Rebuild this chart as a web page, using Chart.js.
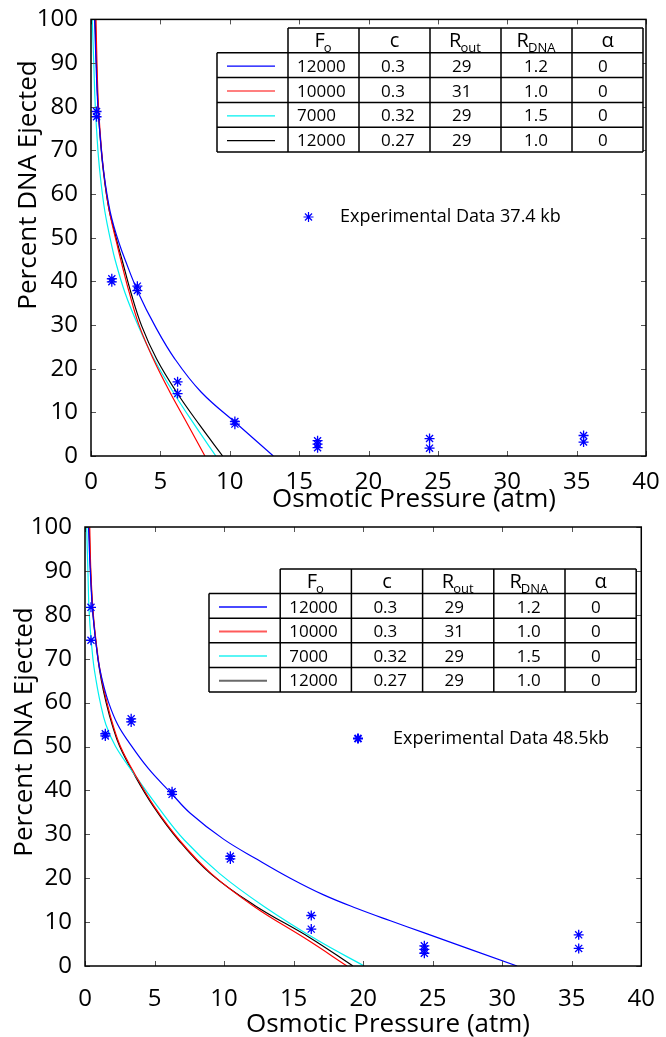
<!DOCTYPE html>
<html>
<head>
<meta charset="utf-8">
<script src="https://cdn.jsdelivr.net/npm/chart.js@4.4.0/dist/chart.umd.min.js"></script>
<style>
  html, body { margin: 0; padding: 0; background: #fff; }
  #wrap { position: relative; width: 666px; height: 1037px; overflow: hidden; }
  #chartBottom { position: absolute; left: 0; top: 500px; }
  #chartTop { position: absolute; left: 0; top: 0; }
</style>
</head>
<body>
<div id="wrap">
  <canvas id="chartBottom" width="666" height="537"></canvas>
  <canvas id="chartTop" width="666" height="520"></canvas>
</div>
<script>
// ---- parameter table (same for both panels) ----
const fo = ['12000', '10000', '7000', '12000'];
const cVals = ['0.3', '0.3', '0.32', '0.27'];
const rOut = ['29', '31', '29', '29'];
const rDna = ['1.2', '1.0', '1.5', '1.0'];
const alphaVals = ['0', '0', '0', '0'];

// ---- top panel: 37.4 kb ----
const topLevels = [100, 90, 80, 70, 65, 60, 56, 52.6, 48.8, 45, 37.4, 29.8, 22.2, 14.6, 7, 0];
const topBlueX = [0.26, 0.36, 0.5, 0.75, 0.92, 1.15, 1.38, 1.65, 2.02, 2.45, 3.41, 4.61, 6.05, 7.95, 10.65, 13.14];
const topRedX = [0.36, 0.43, 0.54, 0.76, 0.92, 1.12, 1.33, 1.56, 1.85, 2.14, 2.76, 3.48, 4.49, 5.69, 7.01, 8.21];
const topCyanX = [0.09, 0.2, 0.31, 0.5, 0.64, 0.82, 1.0, 1.2, 1.45, 1.73, 2.45, 3.41, 4.54, 5.93, 7.49, 9.0];
const topBlackX = [0.3, 0.39, 0.51, 0.74, 0.9, 1.11, 1.33, 1.6, 1.9, 2.23, 2.88, 3.65, 4.73, 6.17, 7.85, 9.49];
const topExpX = [0.4, 0.4, 1.5, 1.5, 3.34, 3.34, 6.24, 6.24, 10.37, 10.37, 16.33, 16.33, 16.33, 24.4, 24.4, 35.5, 35.5];
const topExpY = [78.9, 77.7, 40.6, 39.9, 38.9, 37.9, 17.0, 14.3, 7.9, 7.3, 3.5, 2.7, 1.9, 4.0, 1.8, 4.7, 3.2];

// ---- bottom panel: 48.5 kb ----
const botBlueX = [0.25, 0.38, 0.57, 0.93, 1.25, 1.7, 2.35, 3.15, 4.55, 6.19, 7.57, 9.96, 12.37, 14.76, 17.16, 19.56, 21.96, 24.35, 31.07];
const botBlueY = [100, 90, 80, 70, 65, 60, 55, 51, 45, 39.4, 34.8, 28.9, 24.3, 20.0, 16.2, 13.1, 10.3, 7.6, 0];
const botRedX = [0.34, 0.42, 0.6, 0.95, 1.22, 1.58, 2.0, 2.55, 3.55, 4.99, 6.78, 9.06, 12.18, 16.02, 18.84];
const botRedY = [100, 90, 80, 70, 65, 60, 55, 50, 43.9, 36.3, 28.7, 21.1, 13.5, 5.9, 0];
const botCyanX = [0.12, 0.21, 0.31, 0.57, 0.8, 1.1, 1.5, 2.2, 3.5, 5.23, 7.14, 9.66, 12.9, 16.7, 20.08];
const botCyanY = [100, 90, 80, 70, 65, 60, 55, 50, 43.9, 36.3, 28.7, 21.1, 13.5, 5.9, 0];
const botBlackX = [0.3, 0.4, 0.58, 0.93, 1.18, 1.52, 1.95, 2.5, 3.49, 4.93, 6.72, 9.0, 12.2, 16.2, 19.27];
const botBlackY = [100, 90, 80, 70, 65, 60, 55, 50, 43.9, 36.3, 28.7, 21.1, 13.8, 6.4, 0];
const botExpX = [0.43, 0.43, 1.46, 1.46, 3.32, 3.32, 6.26, 6.26, 10.45, 10.45, 16.27, 16.27, 24.4, 24.4, 24.4, 35.5, 35.5];
const botExpY = [81.7, 74.2, 52.9, 52.4, 56.3, 55.6, 39.7, 39.1, 25.0, 24.4, 11.5, 8.4, 4.6, 3.8, 2.9, 7.1, 4.0];

const lineColors = ['#0000ff', '#ff0000', '#00f0f0', '#000000'];
Chart.defaults.font.family = "'Open Sans', sans-serif";

const zip = (xs, ys) => xs.map((x, i) => ({ x: x, y: ys[i] }));

const boxAndLegend = {
  id: 'boxAndLegend',
  afterDraw(chart, args, o) {
    const ctx = chart.ctx, a = chart.chartArea;
    const xs = chart.scales.x, ys = chart.scales.y;
    ctx.save();

    // inward ticks on all four sides
    ctx.strokeStyle = '#555';
    ctx.lineWidth = 1;
    ctx.beginPath();
    xs.ticks.forEach(t => {
      const px = Math.round(xs.getPixelForValue(t.value)) + 0.5;
      ctx.moveTo(px, a.bottom); ctx.lineTo(px, a.bottom - 5);
      ctx.moveTo(px, a.top); ctx.lineTo(px, a.top + 5);
    });
    ys.ticks.forEach(t => {
      const py = Math.round(ys.getPixelForValue(t.value)) + 0.5;
      ctx.moveTo(a.left, py); ctx.lineTo(a.left + 5, py);
      ctx.moveTo(a.right, py); ctx.lineTo(a.right - 5, py);
    });
    ctx.stroke();
    ctx.strokeStyle = '#000';
    ctx.lineWidth = 1.5;
    ctx.strokeRect(a.left, a.top, a.right - a.left, a.bottom - a.top);

    // axis titles
    ctx.fillStyle = '#000';
    ctx.font = "26px 'Open Sans'";
    ctx.textAlign = 'center';
    ctx.textBaseline = 'middle';
    ctx.fillText('Osmotic Pressure (atm)', o.xTitle[0], o.xTitle[1]);
    ctx.save();
    ctx.translate(o.yTitle[0], o.yTitle[1]);
    ctx.rotate(-Math.PI / 2);
    ctx.fillText('Percent DNA Ejected', 0, 0);
    ctx.restore();

    // parameter table
    const L = o.table.left, T = o.table.top, cw = o.table.col, rh = o.table.row;
    ctx.fillStyle = '#fff';
    ctx.fillRect(L + cw, T, cw * 5, rh);
    ctx.fillRect(L, T + rh, cw * 6, rh * 4);
    ctx.strokeStyle = '#000';
    ctx.lineWidth = 1.5;
    ctx.beginPath();
    ctx.moveTo(L + cw, T); ctx.lineTo(L + 6 * cw, T);
    for (let r = 1; r <= 5; r++) { ctx.moveTo(L, T + r * rh); ctx.lineTo(L + 6 * cw, T + r * rh); }
    ctx.moveTo(L, T + rh); ctx.lineTo(L, T + 5 * rh);
    for (let c = 1; c <= 6; c++) { ctx.moveTo(L + c * cw, T); ctx.lineTo(L + c * cw, T + 5 * rh); }
    ctx.stroke();

    // header with subscripts
    const heads = [['F', 'o'], ['c', ''], ['R', 'out'], ['R', 'DNA'], ['\u03b1', '']];
    ctx.fillStyle = '#000';
    ctx.textBaseline = 'alphabetic';
    ctx.textAlign = 'left';
    heads.forEach((h, i) => {
      ctx.font = "20px 'Open Sans'";
      const w1 = ctx.measureText(h[0]).width;
      ctx.font = "13px 'Open Sans'";
      const w2 = h[1] ? ctx.measureText(h[1]).width : 0;
      const x0 = L + (i + 1) * cw + (cw - w1 - w2) / 2;
      ctx.font = "20px 'Open Sans'";
      ctx.fillText(h[0], x0, T + 19);
      if (h[1]) {
        ctx.font = "13px 'Open Sans'";
        ctx.fillText(h[1], x0 + w1 - 1, T + 24);
      }
    });

    // rows
    const cols = [fo, cVals, rOut, rDna, alphaVals];
    const offs = [9, 22, 22, 23, 26];
    ctx.font = "17px 'Open Sans'";
    for (let r = 0; r < 4; r++) {
      const top = T + (r + 1) * rh;
      ctx.strokeStyle = o.legendColors[r];
      ctx.lineWidth = o.legendWidth;
      ctx.beginPath();
      ctx.moveTo(L + 10, top + rh / 2 + 1);
      ctx.lineTo(L + 58, top + rh / 2 + 1);
      ctx.stroke();
      cols.forEach((col, c) => {
        ctx.fillText(col[r], L + (c + 1) * cw + offs[c], top + 19);
      });
    }

    // experimental data key
    ctx.strokeStyle = '#0000ff';
    ctx.fillStyle = '#0000ff';
    Chart.helpers.drawPoint(ctx, { pointStyle: 'star', radius: 5, rotation: 0, borderWidth: 1.3 }, o.exp[0], o.exp[1]);
    ctx.fillStyle = '#000';
    ctx.font = "18px 'Open Sans'";
    ctx.textBaseline = 'middle';
    ctx.fillText(o.expLabel, o.exp[2], o.exp[1]);
    ctx.restore();
  }
};

function curve(data, color) {
  return {
    data: data,
    showLine: true,
    borderColor: color,
    borderWidth: 1.2,
    pointRadius: 0,
    tension: 0.4,
    fill: false
  };
}

function makeChart(id, curves, expPts, deco) {
  return new Chart(document.getElementById(id).getContext('2d'), {
    type: 'scatter',
    data: {
      datasets: [
        {
          data: expPts,
          showLine: false,
          pointStyle: 'star',
          pointRadius: 5,
          borderColor: '#0000ff',
          backgroundColor: '#0000ff',
          pointBorderWidth: 1.3
        },
        ...curves.map((c, i) => curve(c, lineColors[i]))
      ]
    },
    options: {
      responsive: false,
      animation: false,
      layout: { padding: { top: deco.padTop, right: deco.padRight, left: 0, bottom: 0 } },
      plugins: {
        legend: { display: false },
        tooltip: { enabled: false },
        boxAndLegend: deco
      },
      scales: {
        x: {
          type: 'linear',
          min: 0,
          max: 40,
          grid: { display: false },
          border: { display: false },
          ticks: { stepSize: 5, autoSkip: false, maxRotation: 0, color: '#000', padding: deco.xPad, font: { size: 24 } },
          afterFit: s => { s.height = deco.xHeight; }
        },
        y: {
          type: 'linear',
          min: 0,
          max: 100,
          grid: { display: false },
          border: { display: false },
          ticks: { stepSize: 10, autoSkip: false, color: '#000', padding: 5, font: { size: 24 } },
          afterFit: s => { s.width = deco.yWidth; }
        }
      }
    },
    plugins: [boxAndLegend]
  });
}

makeChart('chartTop',
  [zip(topBlueX, topLevels), zip(topRedX, topLevels), zip(topCyanX, topLevels), zip(topBlackX, topLevels)],
  zip(topExpX, topExpY),
  {
    padTop: 18, padRight: 20, yWidth: 91, xHeight: 64, xPad: 4,
    xTitle: [414, 500], yTitle: [29, 185],
    table: { left: 217, top: 28, col: 71, row: 24.8 },
    legendColors: lineColors, legendWidth: 1.2,
    exp: [308.5, 217, 340], expLabel: 'Experimental Data 37.4 kb'
  });

makeChart('chartBottom',
  [zip(botBlueX, botBlueY), zip(botRedX, botRedY), zip(botCyanX, botCyanY), zip(botBlackX, botBlackY)],
  zip(botExpX, botExpY),
  {
    padTop: 27, padRight: 23, yWidth: 85, xHeight: 71, xPad: 11,
    xTitle: [388, 525], yTitle: [25, 232],
    table: { left: 209, top: 69, col: 71.2, row: 24.6 },
    legendColors: ['#4a4aff', '#ff5a5a', '#5af5f5', '#6a6a6a'], legendWidth: 2,
    exp: [358, 238.6, 393], expLabel: 'Experimental Data 48.5kb'
  });
</script>
</body>
</html>
